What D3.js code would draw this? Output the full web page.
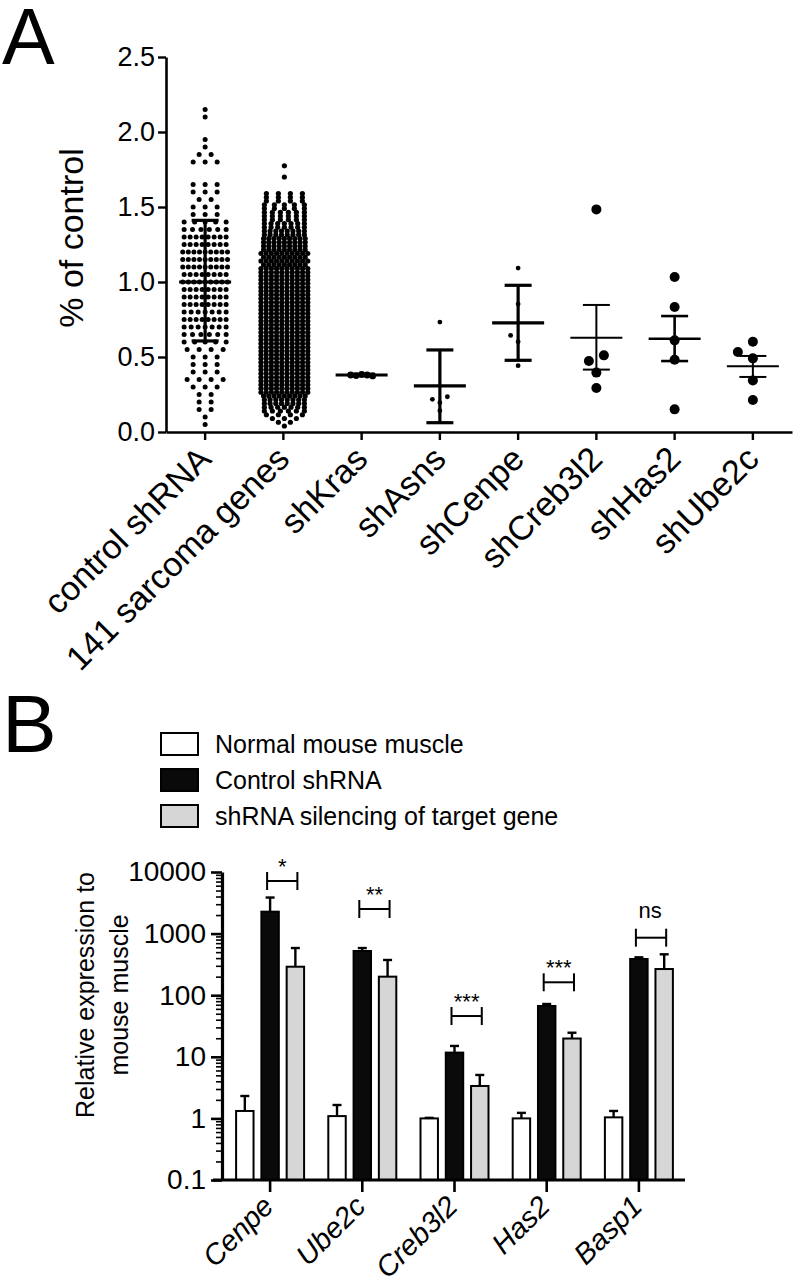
<!DOCTYPE html>
<html>
<head>
<meta charset="utf-8">
<script src="https://cdn.jsdelivr.net/npm/d3@7"></script>
<style>
body { margin: 0; background: #fff; }
svg { display: block; font-family: "Liberation Sans", Arial, Helvetica, sans-serif; }
</style>
</head>
<body>
<svg id="fig" width="794" height="1285"></svg>
<script>
// ---------- panel A data ----------
const groupsA = ["control shRNA", "141 sarcoma genes", "shKras", "shAsns", "shCenpe", "shCreb3l2", "shHas2", "shUbe2c"];
const ticksA = [0, 0.5, 1.0, 1.5, 2.0, 2.5];

// control shRNA wells (row value, dots in that row)
const controlRowValues = [2.15, 2.10, 1.95, 1.90, 1.85, 1.80, 1.65, 1.60, 1.55, 1.50, 1.45, 1.40, 1.35, 1.30,
  1.25, 1.20, 1.15, 1.10, 1.05, 1.00, 0.95, 0.90, 0.85, 0.80, 0.75, 0.70, 0.65, 0.60, 0.55, 0.50,
  0.45, 0.40, 0.35, 0.30, 0.25, 0.20, 0.15, 0.10, 0.05];
const controlRowCounts = [1, 1, 1, 1, 2, 3, 3, 3, 2, 3, 3, 5, 6, 8,
  8, 9, 9, 9, 8, 9, 8, 8, 8, 7, 8, 7, 6, 5, 4, 3,
  3, 3, 4, 3, 2, 2, 2, 1, 1];

// 141 sarcoma genes (all hairpins), same idea, rows are tighter
const sarcomaRowValues = [0.040, 0.065, 0.090, 0.115, 0.140, 0.165, 0.190, 0.215, 0.240, 0.265,
  0.290, 0.315, 0.340, 0.365, 0.390, 0.415, 0.440, 0.465, 0.490, 0.515, 0.540, 0.565, 0.590, 0.615,
  0.640, 0.665, 0.690, 0.715, 0.740, 0.765, 0.790, 0.815, 0.840, 0.865, 0.890, 0.915, 0.940, 0.965,
  0.990, 1.015, 1.040, 1.065, 1.090, 1.115, 1.140, 1.165, 1.190, 1.215, 1.240, 1.265, 1.290, 1.315,
  1.340, 1.365, 1.390, 1.415, 1.440, 1.465, 1.490, 1.515, 1.540, 1.565, 1.590, 1.700, 1.775];
const sarcomaRowCounts = [1, 2, 3, 4, 6, 7, 8, 8, 9, 10,
  10, 10, 10, 10, 10, 10, 10, 10, 10, 10, 10, 10, 10, 10,
  10, 10, 10, 10, 10, 10, 10, 10, 10, 10, 10, 10, 10, 10,
  10, 10, 10, 10, 10, 9, 10, 9, 10, 9, 9, 9, 9, 8,
  8, 7, 7, 6, 6, 6, 5, 5, 4, 4, 4, 1, 1];

const krasVals  = [0.380, 0.376, 0.384, 0.380, 0.374];
const asnsVals  = [0.733, 0.218, 0.235, 0.195, 0.142];
const cenpeVals = [1.093, 0.853, 0.644, 0.602, 0.442];
const crebVals  = [1.484, 0.511, 0.473, 0.396, 0.293];
const has2Vals  = [1.033, 0.833, 0.611, 0.482, 0.151];
const ube2cVals = [0.602, 0.533, 0.491, 0.344, 0.213];

// mean and error bar ends (null = not drawn)
const meanA    = [1.00, null, 0.380, 0.307, 0.727, 0.629, 0.622, 0.438];
const errLowA  = [0.607, null, 0.375, 0.062, 0.478, 0.416, 0.473, 0.367];
const errHighA = [1.411, null, 0.385, 0.547, 0.978, 0.847, 0.773, 0.507];

// ---------- panel B data ----------
const genesB = ["Cenpe", "Ube2c", "Creb3l2", "Has2", "Basp1"];
const seriesB = ["Normal mouse muscle", "Control shRNA", "shRNA silencing of target gene"];
const normalMean   = [1.32, 1.09, 1.00, 1.00, 1.04];
const normalSem    = [0.99, 0.56, 0.02, 0.23, 0.28];
const controlMean  = [2270, 522, 11.7, 66.8, 387];
const controlSem   = [1580, 61, 3.3, 5.2, 25];
const silencedMean = [290, 200, 3.36, 19.8, 266];
const silencedSem  = [293, 173, 1.71, 4.8, 195];
const sigLabels = ["*", "**", "***", "***", "ns"];
const sigLevel  = [7140, 2510, 45.9, 162, 858];
const ticksB = [0.1, 1, 10, 100, 1000, 10000];

const svg = d3.select("#fig");

// ================= panel A =================
svg.append("text").attr("x", 2).attr("y", 64)
  .attr("font-size", 79).text("A");

const xA = d3.scaleBand().domain(groupsA).range([166, 792]);
const yA = d3.scaleLinear().domain([0, 2.5]).range([432, 57]);

const gA = svg.append("g");

// dots of the two big columns, laid out row by row;
// sparse rows are spread out wider, like Prism does
function rowDots(values, counts, spacing, spread) {
  const out = [];
  values.forEach((v, i) => {
    const n = counts[i];
    const s = n > 1 ? Math.max(spacing, Math.min(12, spread / (n - 1))) : 0;
    for (let k = 0; k < n; k++) out.push({ v: v, dx: (k - (n - 1) / 2) * s });
  });
  return out;
}

gA.selectAll("circle.ctrl")
  .data(rowDots(controlRowValues, controlRowCounts, 5.6, 42))
  .enter().append("circle")
  .attr("cx", d => xA("control shRNA") + xA.bandwidth() / 2 + d.dx)
  .attr("cy", d => yA(d.v))
  .attr("r", 2.5);

gA.selectAll("circle.sarc")
  .data(rowDots(sarcomaRowValues, sarcomaRowCounts, 5.2, 40))
  .enter().append("circle")
  .attr("cx", d => xA("141 sarcoma genes") + xA.bandwidth() / 2 + 1 + d.dx)
  .attr("cy", d => yA(d.v))
  .attr("r", 2.6);

// small groups: simple beeswarm
function swarm(values, r, step) {
  const placed = [];
  values.slice().sort((a, b) => a - b).forEach(v => {
    const py = yA(v);
    for (const dx of [0, -step, step, -2 * step, 2 * step]) {
      if (placed.every(q => Math.hypot(q.dx - dx, q.y - py) >= 2 * r + 2)) {
        placed.push({ v: v, dx: dx, y: py });
        break;
      }
    }
  });
  return placed;
}

const smallGroups = [
  ["shKras", krasVals], ["shAsns", asnsVals], ["shCenpe", cenpeVals],
  ["shCreb3l2", crebVals], ["shHas2", has2Vals], ["shUbe2c", ube2cVals]
];
const bigDots = new Set(["shCreb3l2", "shHas2", "shUbe2c"]);

smallGroups.forEach(([name, vals]) => {
  const cx = xA(name) + xA.bandwidth() / 2;
  let r = bigDots.has(name) ? 5 : 2.4;
  let pts;
  if (name === "shKras") {
    r = 3.4;
    pts = vals.map((v, i) => ({ v: v, dx: (i - 2) * 5.5 }));
  } else {
    pts = swarm(vals, r, 7.5);
  }
  gA.selectAll(null).data(pts).enter().append("circle")
    .attr("cx", d => cx + d.dx)
    .attr("cy", d => yA(d.v))
    .attr("r", r);
});

// mean +- error lines
const thinLines = { "shCreb3l2": 2, "shHas2": 2.6, "shUbe2c": 2 };
groupsA.forEach((name, i) => {
  if (meanA[i] === null) return;
  const cx = xA(name) + xA.bandwidth() / 2;
  const sw = thinLines[name] || 3.2;
  const g = gA.append("g").attr("stroke", "#000").attr("stroke-width", sw);
  g.append("line").attr("x1", cx - 26).attr("x2", cx + 26)
    .attr("y1", yA(meanA[i])).attr("y2", yA(meanA[i]));
  g.append("line").attr("x1", cx).attr("x2", cx)
    .attr("y1", yA(errLowA[i])).attr("y2", yA(errHighA[i]));
  [errLowA[i], errHighA[i]].forEach(e => {
    g.append("line").attr("x1", cx - 13.5).attr("x2", cx + 13.5)
      .attr("y1", yA(e)).attr("y2", yA(e));
  });
});

// axes
const yAxisA = svg.append("g")
  .attr("transform", "translate(166,0)")
  .call(d3.axisLeft(yA).tickValues(ticksA).tickFormat(d3.format(".1f"))
    .tickSize(8).tickSizeOuter(0).tickPadding(3));
yAxisA.selectAll("text").attr("font-size", 27).attr("font-family", "Liberation Sans, Arial, sans-serif");

const xAxisA = svg.append("g")
  .attr("transform", "translate(0,432)")
  .call(d3.axisBottom(xA).tickSize(8).tickSizeOuter(0));
xAxisA.selectAll("text").remove();
xAxisA.selectAll(".tick").append("text")
  .attr("fill", "#000")
  .attr("text-anchor", "end")
  .attr("font-size", 34)
  .attr("font-family", "Liberation Sans, Arial, sans-serif")
  .attr("transform", "translate(8,29) rotate(-45)")
  .text(d => d);

[yAxisA, xAxisA].forEach(a => {
  a.select(".domain").attr("stroke-width", 2.6);
  a.selectAll(".tick line").attr("stroke-width", 2.4);
});

svg.append("text")
  .attr("transform", "translate(0,238) rotate(-90)")
  .attr("x", 0).attr("y", 83)
  .attr("text-anchor", "middle")
  .attr("font-size", 34)
  .text("% of control");

// ================= panel B =================
svg.append("text").attr("x", 2).attr("y", 752)
  .attr("font-size", 82).text("B");

const fills = ["#ffffff", "#0a0a0a", "#d6d6d6"];

// legend
const leg = svg.append("g");
seriesB.forEach((s, i) => {
  const y0 = 733 + i * 36;
  leg.append("rect").attr("x", 161).attr("y", y0).attr("width", 37).attr("height", 22)
    .attr("fill", fills[i]).attr("stroke", "#000").attr("stroke-width", 2);
  leg.append("text").attr("x", 215).attr("y", y0 + 20)
    .attr("font-size", 25).text(s);
});

const xB = d3.scaleBand().domain(genesB).range([224, 685]);
const xInner = d3.scaleBand().domain([0, 1, 2]).range([-34, 34]).paddingInner(0.31);
const yB = d3.scaleLog().domain([0.1, 10000]).range([1180, 872]);

const means = [normalMean, controlMean, silencedMean];
const sems = [normalSem, controlSem, silencedSem];

const barData = [];
genesB.forEach((g, gi) => {
  [0, 1, 2].forEach(si => barData.push({ gene: g, s: si, mean: means[si][gi], sem: sems[si][gi] }));
});

const gB = svg.append("g");
const bx = d => xB(d.gene) + xB.bandwidth() / 2 + xInner(d.s);

gB.selectAll("rect.bar").data(barData).enter().append("rect")
  .attr("x", d => bx(d))
  .attr("y", d => yB(d.mean))
  .attr("width", xInner.bandwidth())
  .attr("height", d => yB(0.1) - yB(d.mean))
  .attr("fill", d => fills[d.s])
  .attr("stroke", "#000")
  .attr("stroke-width", 2);

// error bars (upper only)
const eb = gB.append("g").attr("stroke", "#000").attr("stroke-width", 2.4);
barData.forEach(d => {
  const cx = bx(d) + xInner.bandwidth() / 2;
  eb.append("line").attr("x1", cx).attr("x2", cx)
    .attr("y1", yB(d.mean)).attr("y2", yB(d.mean + d.sem));
  eb.append("line").attr("x1", cx - 4.5).attr("x2", cx + 4.5)
    .attr("y1", yB(d.mean + d.sem)).attr("y2", yB(d.mean + d.sem));
});

// significance brackets
const sg = gB.append("g");
genesB.forEach((g, gi) => {
  const c = xB(g) + xB.bandwidth() / 2;
  const x1 = c + xInner(1) + xInner.bandwidth() / 2 - 3;
  const x2 = c + xInner(2) + xInner.bandwidth() / 2 + 2;
  const y = yB(sigLevel[gi]);
  const b = sg.append("g").attr("stroke", "#000").attr("stroke-width", 2);
  b.append("line").attr("x1", x1).attr("x2", x2).attr("y1", y).attr("y2", y);
  b.append("line").attr("x1", x1).attr("x2", x1).attr("y1", y - 9).attr("y2", y + 9);
  b.append("line").attr("x1", x2).attr("x2", x2).attr("y1", y - 9).attr("y2", y + 9);
  const isNs = sigLabels[gi] === "ns";
  sg.append("text")
    .attr("x", (x1 + x2) / 2 + (isNs ? -1 : 0))
    .attr("y", isNs ? y - 20 : y - 7)
    .attr("text-anchor", "middle")
    .attr("font-size", 22)
    .text(sigLabels[gi]);
});

// y axis (log) with minor ticks
const minorB = [];
ticksB.slice(0, -1).forEach(t => { for (let k = 2; k <= 9; k++) minorB.push(t * k); });

const yMinor = svg.append("g").attr("transform", "translate(222,0)")
  .call(d3.axisLeft(yB).tickValues(minorB).tickFormat("").tickSize(6).tickSizeOuter(0));
yMinor.select(".domain").remove();
yMinor.selectAll(".tick line").attr("stroke-width", 1.6);

const yAxisB = svg.append("g").attr("transform", "translate(222,0)")
  .call(d3.axisLeft(yB).tickValues(ticksB).tickFormat(d => d3.format("~g")(d))
    .tickSize(11).tickSizeOuter(0).tickPadding(5));
yAxisB.selectAll("text").attr("font-size", 28).attr("font-family", "Liberation Sans, Arial, sans-serif");
yAxisB.select(".domain").attr("stroke-width", 3.2);
yAxisB.selectAll(".tick line").attr("stroke-width", 2.6);

const xAxisB = svg.append("g").attr("transform", "translate(0,1180)")
  .call(d3.axisBottom(xB).tickSize(12).tickSizeOuter(0));
xAxisB.select(".domain").attr("d", "M213,0H685").attr("stroke-width", 3.2);
xAxisB.selectAll(".tick line").attr("stroke-width", 2.6);
xAxisB.selectAll("text").remove();
xAxisB.selectAll(".tick").append("text")
  .attr("fill", "#000")
  .attr("text-anchor", "end")
  .attr("font-size", 29)
  .attr("font-style", "italic")
  .attr("font-family", "Liberation Sans, Arial, sans-serif")
  .attr("transform", "translate(5,28) rotate(-45)")
  .text(d => d);

const yl = svg.append("g").attr("transform", "translate(0,995) rotate(-90)")
  .attr("text-anchor", "middle").attr("font-size", 25);
yl.append("text").attr("x", 0).attr("y", 94).text("Relative expression to");
yl.append("text").attr("x", 0).attr("y", 128).text("mouse muscle");
</script>
</body>
</html>
